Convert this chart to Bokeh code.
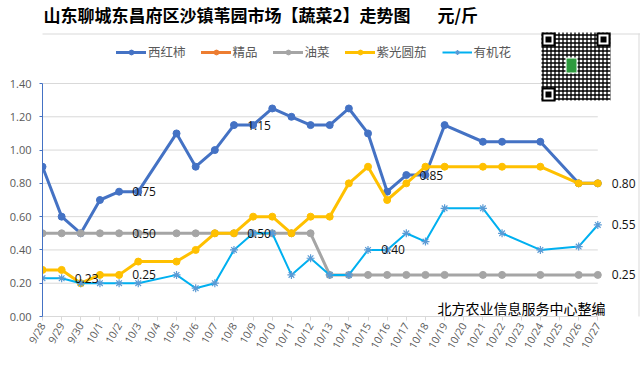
import math
from bokeh.plotting import figure
from bokeh.models import (Range1d, FixedTicker, Legend, LegendItem, Label, LabelSet,
                          ColumnDataSource, BoxAnnotation, NumeralTickFormatter)
from bokeh.core.properties import value
from bokeh.embed import file_html
from bokeh.resources import INLINE

# ---------------- data ----------------
dates = ["9/28", "9/29", "9/30", "10/1", "10/2", "10/3", "10/4", "10/5", "10/6", "10/7",
         "10/8", "10/9", "10/10", "10/11", "10/12", "10/13", "10/14", "10/15", "10/16", "10/17",
         "10/18", "10/19", "10/20", "10/21", "10/22", "10/23", "10/24", "10/25", "10/26", "10/27"]

tomato = [0.90, 0.60, 0.50, 0.70, 0.75, 0.75, None, 1.10, 0.90, 1.00,
          1.15, 1.15, 1.25, 1.20, 1.15, 1.15, 1.25, 1.10, 0.75, 0.85,
          0.85, 1.15, None, 1.05, 1.05, None, 1.05, None, 0.80, 0.80]
premium = []  # 精品: no values in the period
rapeseed = [0.50, 0.50, 0.50, 0.50, 0.50, 0.50, None, 0.50, 0.50, 0.50,
            0.50, 0.50, 0.50, 0.50, 0.50, 0.25, 0.25, 0.25, 0.25, 0.25,
            0.25, 0.25, None, 0.25, 0.25, None, 0.25, None, 0.25, 0.25]
eggplant = [0.28, 0.28, 0.20, 0.25, 0.25, 0.33, None, 0.33, 0.40, 0.50,
            0.50, 0.60, 0.60, 0.50, 0.60, 0.60, 0.80, 0.90, 0.70, 0.80,
            0.90, 0.90, None, 0.90, 0.90, None, 0.90, None, 0.80, 0.80]
cauliflower = [0.23, 0.23, 0.20, 0.20, 0.20, 0.20, None, 0.25, 0.17, 0.20,
               0.40, 0.50, 0.50, 0.25, 0.35, 0.25, 0.25, 0.40, 0.40, 0.50,
               0.45, 0.65, None, 0.65, 0.50, None, 0.40, None, 0.42, 0.55]

series_names = ["西红柿", "精品", "油菜", "紫光圆茄", "有机花"]

y_ticks = [0.0, 0.2, 0.4, 0.6, 0.8, 1.0, 1.2, 1.4]

# data labels shown inside the plot (date, value)
inner_label_dates = ["10/3", "10/9", "10/18", "10/3", "10/9", "9/30", "10/3", "10/16"]
inner_label_values = [0.75, 1.15, 0.85, 0.50, 0.50, 0.23, 0.25, 0.40]
# data labels at the last date
end_label_dates = ["10/27", "10/27", "10/27"]
end_label_values = [0.80, 0.55, 0.25]

title_text = "山东聊城东昌府区沙镇苇园市场【蔬菜2】走势图\u00a0\u00a0\u00a0\u00a0\u00a0\u00a0\u00a0元/斤"
footer_text = "北方农业信息服务中心整编"

# ---------------- layout constants (pixels) ----------------
W, H = 640, 379
FRAME_L, FRAME_B = 42, 316          # y axis x-position, x axis y-position
X_LAST_PX, Y_TOP_PX = 597.3, 83      # pixel of last date / of top tick
PXU = (X_LAST_PX - FRAME_L) / (len(dates) - 1)
PYU = (FRAME_B - Y_TOP_PX) / y_ticks[-1]

def DX(a):  # page pixel x -> data x
    return (a - FRAME_L) / PXU
def DY(a):  # page pixel y -> data y
    return (FRAME_B - a) / PYU

def pts(vals):
    xs = [i for i, v in enumerate(vals) if v is not None]
    ys = [v for v in vals if v is not None]
    if not xs:  # keep one invisible row so the legend can still draw the glyph
        xs, ys = [float("nan")], [float("nan")]
    return xs, ys

# ---------------- figure ----------------
p = figure(width=W, height=H, output_backend="svg", toolbar_location=None, title=None,
           x_range=Range1d(0, DX(W)), y_range=Range1d(0, DY(0)),
           min_border_left=FRAME_L, min_border_right=0, min_border_top=0,
           min_border_bottom=H - FRAME_B,
           background_fill_color="white", border_fill_color="white", outline_line_color=None)

p.xgrid.visible = False
p.ygrid.visible = False

last = len(dates) - 1
# horizontal gridlines over the plot area only
p.segment(x0=[0] * len(y_ticks), y0=y_ticks, x1=[last] * len(y_ticks), y1=y_ticks,
          line_color="#D9D9D9", line_width=1)

xa = p.xaxis[0]
xa.bounds = (0, last)
xa.ticker = FixedTicker(ticks=list(range(len(dates))))
xa.major_label_overrides = {i: d for i, d in enumerate(dates)}
xa.major_label_orientation = math.pi / 3
xa.minor_tick_line_color = None
xa.axis_line_color = "#D9D9D9"
xa.major_tick_line_color = "#D9D9D9"
xa.major_tick_in = 0
xa.major_tick_out = 4
xa.major_label_standoff = 3
xa.major_label_text_font = "Open Sans"
xa.major_label_text_font_size = "10.5px"
xa.major_label_text_color = "#595959"

ya = p.yaxis[0]
ya.bounds = (y_ticks[0], y_ticks[-1])
ya.ticker = FixedTicker(ticks=y_ticks)
ya.formatter = NumeralTickFormatter(format="0.00")
ya.minor_tick_line_color = None
ya.axis_line_color = "#4472C4"
ya.major_tick_line_color = "#4472C4"
ya.major_tick_in = 0
ya.major_tick_out = 3
ya.major_label_standoff = 8
ya.major_label_text_font = "Open Sans"
ya.major_label_text_font_size = "11px"
ya.major_label_text_color = "#595959"

# ---------------- series ----------------
colors = ["#4472C4", "#ED7D31", "#A5A5A5", "#FFC000", "#00B0F0"]
items = []
for name, vals, col in zip(series_names[:4], [tomato, premium, rapeseed, eggplant], colors[:4]):
    xs, ys = pts(vals)
    src = ColumnDataSource(dict(x=xs, y=ys))
    lr = p.line("x", "y", source=src, line_color=col, line_width=3, line_join="round", line_cap="round")
    sr = p.scatter("x", "y", source=src, marker="circle", size=7, fill_color=col, line_color=col)
    items.append(LegendItem(label=name, renderers=[lr, sr]))

xs, ys = pts(cauliflower)
src = ColumnDataSource(dict(x=xs, y=ys))
lr = p.line("x", "y", source=src, line_color=colors[4], line_width=2, line_join="round")
sr = p.scatter("x", "y", source=src, marker="asterisk", size=8, line_color="#5B9BD5", line_width=1.2)
items.append(LegendItem(label=series_names[4], renderers=[lr, sr]))

legend = Legend(items=items, orientation="horizontal",
                location=(116 - FRAME_L, FRAME_B - 51.5 - 10),
                glyph_width=30, glyph_height=12, label_standoff=2, spacing=15,
                padding=0, margin=0, border_line_color=None, background_fill_alpha=0,
                label_text_font="Noto Sans CJK SC", label_text_font_size="12.5px",
                label_text_color="#595959", label_height=20)
p.add_layout(legend)

# ---------------- data labels ----------------
idx = {d: i for i, d in enumerate(dates)}
inner_src = ColumnDataSource(dict(x=[idx[d] for d in inner_label_dates], y=inner_label_values,
                                  t=[f"{v:.2f}" for v in inner_label_values]))
p.add_layout(LabelSet(x="x", y="y", text="t", source=inner_src, x_offset=-6,
                      text_align="left", text_baseline="middle",
                      text_font=value("Open Sans"), text_font_size="12px", text_color="#111111"))
end_src = ColumnDataSource(dict(x=[idx[d] for d in end_label_dates], y=end_label_values,
                                t=[f"{v:.2f}" for v in end_label_values]))
p.add_layout(LabelSet(x="x", y="y", text="t", source=end_src, x_offset=14,
                      text_align="left", text_baseline="middle",
                      text_font=value("Open Sans"), text_font_size="12px", text_color="#111111"))

# ---------------- chart border (top + right) ----------------
def box(l, t, r, b, **kw):
    p.add_layout(BoxAnnotation(left=DX(l), right=DX(r), top=DY(t), bottom=DY(b),
                               line_color=None, fill_alpha=1, **kw))

box(0, 33, W, 34, fill_color="#D9D9D9")
box(638, 33, 639, 380, fill_color="#D9D9D9")

# ---------------- title and footer ----------------
p.add_layout(Label(x=DX(43), y=DY(14), text=title_text,
                   text_align="left", text_baseline="middle", text_font="Noto Sans CJK SC",
                   text_font_size="17px", text_font_style="bold", text_color="#000000"))
p.add_layout(Label(x=DX(605), y=DY(307), text=footer_text,
                   text_align="right", text_baseline="middle", text_font="Noto Sans CJK SC",
                   text_font_size="14px", text_color="#000000"))

# ---------------- QR code (decorative) ----------------
box(541, 32, 610, 100, fill_color="white", hatch_pattern="cross", hatch_color="black",
    hatch_weight=1.3, hatch_scale=4)
for (l, t) in [(541, 32), (596, 32), (541, 87)]:
    box(l, t, l + 14, t + 14, fill_color="black")
    box(l + 2, t + 2, l + 12, t + 12, fill_color="white")
    box(l + 4, t + 4, l + 10, t + 10, fill_color="black")
box(565, 57, 577, 73, fill_color="white")
box(566, 58, 576, 72, fill_color="#2E9B3E")

open("out.html", "w").write(file_html(p, INLINE))
